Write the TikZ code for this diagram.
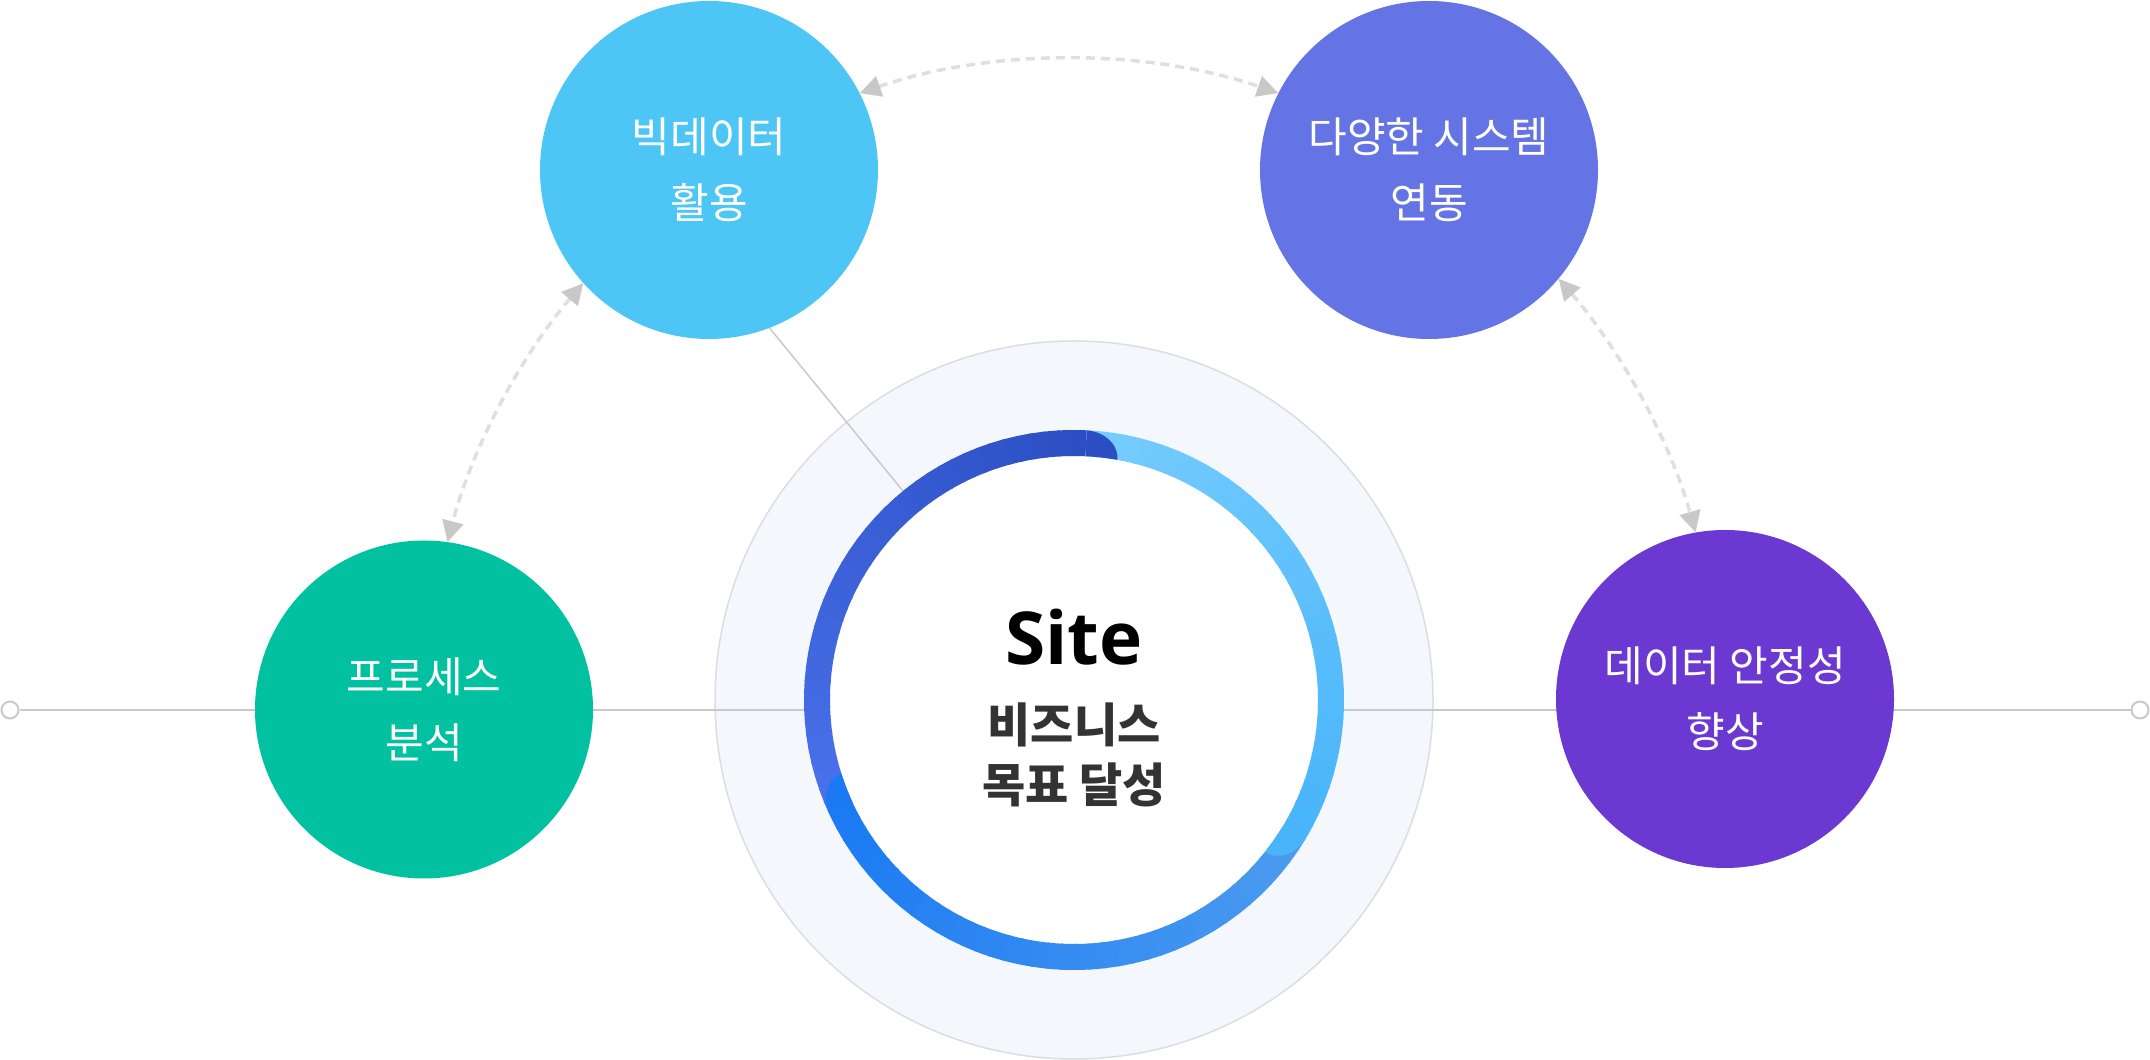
\documentclass[tikz,border=0pt]{standalone}
\usepackage{fontspec}
\setmainfont{Noto Sans CJK KR}
\newfontfamily\latinfont{Open Sans}[BoldFont={* Bold}]
\usetikzlibrary{arrows.meta,positioning,calc}
\definecolor{bigc}{HTML}{4DC6F5}
\definecolor{sysc}{HTML}{6474E5}
\definecolor{procc}{HTML}{02C1A1}
\definecolor{datac}{HTML}{6B38D1}
\definecolor{halofill}{HTML}{F4F8FD}
\definecolor{haloline}{HTML}{DADDE1}
\definecolor{linegray}{HTML}{C9C9C9}
\definecolor{dashgray}{HTML}{DFDFDF}
\definecolor{tipgray}{HTML}{C8C8C8}
\definecolor{textdark}{HTML}{333333}
\definecolor{darkhead}{HTML}{2B4EC3}
\definecolor{darktail}{HTML}{4B72EC}
\definecolor{lighthead}{HTML}{48B4FA}
\definecolor{lighttail}{HTML}{77CDFE}
\definecolor{brighthead}{HTML}{1B7AF3}
\definecolor{brighttail}{HTML}{4D9CEF}
\pgfdeclarelayer{back}
\pgfdeclarelayer{mid}
\pgfsetlayers{back,mid,main}
% one coloured stretch of the ring: angles #1 -> #2, colours #3 -> #4
\newcommand\ringpart[4]{%
  \foreach \k in {1,...,40}{
    \pgfmathsetmacro\aa{#1+(#2-#1)*(\k-1)/40}
    \pgfmathsetmacro\bb{#1+(#2-#1)*\k/40+(\k<40)*0.5}
    \pgfmathtruncatemacro\pp{100*(\k-0.5)/40}
    \fill[#4!\pp!#3] (\aa:270) arc[start angle=\aa,end angle=\bb,radius=270]
      -- (\bb:244) arc[start angle=\bb,end angle=\aa,radius=244] -- cycle;
  }}
% rounded head of a stretch, outer edge at angle #1
\newcommand\ringcap[2]{%
  \pgfmathsetmacro\cc{#1-7.5}
  \fill[#2] (#1:270) .. controls (#1-4.5:270) and (\cc:256) .. (\cc:244)
    arc[start angle=\cc,end angle=#1,radius=244] -- cycle;}

\begin{document}
\begin{tikzpicture}[x=1pt,y=1pt,
 sat/.style={circle,minimum size=338pt,inner sep=0pt,text=white,align=center,
   font=\fontsize{42}{66}\selectfont},
 endpt/.style={circle,draw=linegray,fill=white,line width=2pt,minimum size=17pt,inner sep=0pt},
 link/.style={draw=dashgray,line width=3.5pt,dash pattern=on 9pt off 6pt,looseness=0.85,
   {Triangle[length=21pt,width=21pt,color=tipgray]}-{Triangle[length=21pt,width=21pt,color=tipgray]}}]
\useasboundingbox (0,0) rectangle (2150,1060);
\begin{pgfonlayer}{back}
\node[circle,minimum size=718pt,inner sep=0pt,fill=halofill,draw=haloline,line width=1.5pt] (halo) at (1074,360) {};
\end{pgfonlayer}
\node[circle,fill=white,minimum size=488pt,inner sep=0pt] (core) at (1074,360) {};
\begin{scope}[shift={(core.center)}]
\ringpart{87.3}{205}{darkhead}{darktail}
\ringpart{-31}{87.3}{lighthead}{lighttail}
\ringpart{205}{329}{brighthead}{brighttail}
\ringcap{87.3}{darkhead}
\ringcap{-31}{lighthead}
\ringcap{205}{brighthead}
\end{scope}
\node[font={\latinfont\bfseries\fontsize{73}{80}\selectfont}] (site) at ([yshift=63pt]core.center) {Site};
\node[text=textdark,align=center,font={\bfseries\fontsize{47}{60}\selectfont}] (goal) at ([yshift=-55pt]core.center) {비즈니스\\목표 달성};
% satellites
\node[sat,fill=bigc] (big) at (709,890) {빅데이터\\활용};
\node[sat,fill=sysc] (sys) at (1429,890) {다양한 시스템\\연동};
\node[sat,fill=procc] (proc) at (424,350.5) {프로세스\\분석};
\node[sat,fill=datac] (data) at (1725,361) {데이터 안정성\\향상};
\node[endpt] (lend) at (10,350) {};
\node[endpt] (rend) at (2140,350) {};
\coordinate (tap) at ($(core.center)+(129.3:520)$);
\begin{pgfonlayer}{mid}
\draw[linegray,line width=2pt] (lend) -- (rend);
\draw[linegray,line width=1.5pt] (core.center) -- (tap);
\end{pgfonlayer}
\draw[link] (big.27) to[bend left=19] (sys.153);
\draw[link] (big.222) to[bend right=13] (proc.82);
\draw[link] (sys.320) to[bend left=12.6] (data.100);
\end{tikzpicture}
\end{document}
